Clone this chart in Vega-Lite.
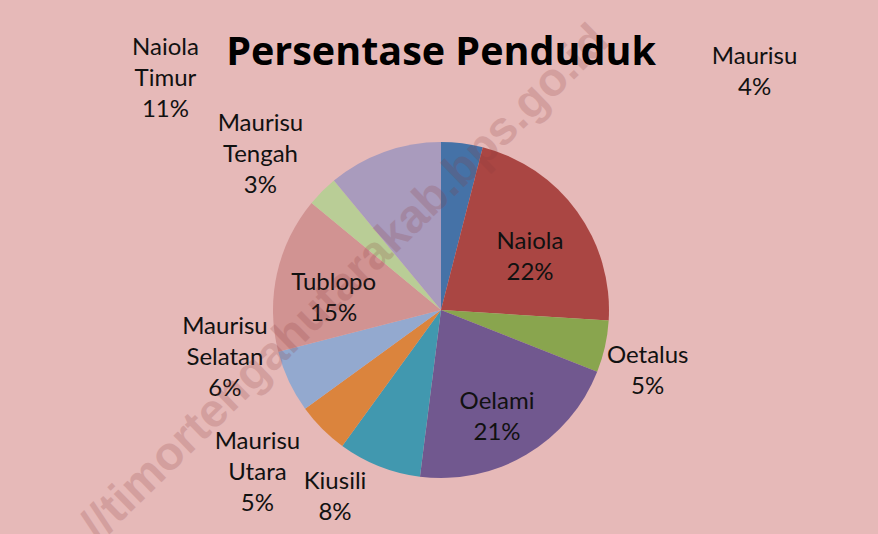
{
  "$schema": "https://vega.github.io/schema/vega-lite/v6.json",
  "width": 874,
  "height": 440,
  "autosize": {"type": "none"},
  "padding": {"left": 4, "top": 90, "right": 0, "bottom": 4},
  "background": "#E6B9B8",
  "view": {"stroke": null},
  "title": {"text": "Persentase Penduduk", "font": "Open Sans", "fontSize": 39.5, "fontWeight": "bold", "color": "#000000", "anchor": "middle", "frame": "group", "baseline": "alphabetic", "offset": -102},
  "config": {
    "text": {"font": "Lato", "fontSize": 24, "lineHeight": 31, "lineBreak": "\n", "align": "center", "baseline": "middle", "color": "#111111"}
  },
  "data": {"values": [
    {"kecamatan": "Maurisu", "persen": 4},
    {"kecamatan": "Naiola", "persen": 22},
    {"kecamatan": "Oetalus", "persen": 5},
    {"kecamatan": "Oelami", "persen": 21},
    {"kecamatan": "Kiusili", "persen": 8},
    {"kecamatan": "Maurisu Utara", "persen": 5},
    {"kecamatan": "Maurisu Selatan", "persen": 6},
    {"kecamatan": "Tublopo", "persen": 15},
    {"kecamatan": "Maurisu Tengah", "persen": 3},
    {"kecamatan": "Naiola Timur", "persen": 11}
  ]},
  "transform": [
    {"window": [{"op": "row_number", "as": "urutan"}]},
    {"calculate": "replace(datum.kecamatan, ' ', '\\n') + '\\n' + datum.persen + '%'", "as": "label"}
  ],
  "encoding": {
    "theta": {"field": "persen", "type": "quantitative", "stack": true},
    "order": {"field": "urutan", "type": "quantitative"}
  },
  "layer": [
    {
      "mark": {"type": "arc", "outerRadius": 168},
      "encoding": {
        "color": {
          "field": "kecamatan", "type": "nominal", "legend": null,
          "scale": {
            "domain": ["Maurisu", "Naiola", "Oetalus", "Oelami", "Kiusili", "Maurisu Utara", "Maurisu Selatan", "Tublopo", "Maurisu Tengah", "Naiola Timur"],
            "range": ["#4572A7", "#AA4643", "#89A54E", "#71588F", "#4198AF", "#DB843D", "#93A9CF", "#D19392", "#B9CD96", "#A99BBD"]
          }
        }
      }
    },
    {
      "mark": {"type": "text", "radius": 110, "dy": -3},
      "encoding": {"text": {"condition": {"test": "indexof(['Naiola','Oelami','Tublopo'], datum.kecamatan) >= 0", "field": "label"}, "value": ""}}
    },
    {
      "mark": {"type": "text", "radius": 220, "dx": -8, "dy": -2},
      "encoding": {"text": {"condition": {"test": "datum.kecamatan == 'Oetalus'", "field": "label"}, "value": ""}}
    },
    {
      "mark": {"type": "text", "radius": 220, "dx": -25, "dy": -33},
      "encoding": {"text": {"condition": {"test": "datum.kecamatan == 'Kiusili'", "field": "label"}, "value": ""}}
    },
    {
      "mark": {"type": "text", "radius": 220, "dx": -28, "dy": -24},
      "encoding": {"text": {"condition": {"test": "datum.kecamatan == 'Maurisu Utara'", "field": "label"}, "value": ""}}
    },
    {
      "mark": {"type": "text", "radius": 220, "dx": -17, "dy": -77},
      "encoding": {"text": {"condition": {"test": "datum.kecamatan == 'Maurisu Selatan'", "field": "label"}, "value": ""}}
    },
    {
      "mark": {"type": "text", "radius": 220, "dx": -25, "dy": -30},
      "encoding": {"text": {"condition": {"test": "datum.kecamatan == 'Maurisu Tengah'", "field": "label"}, "value": ""}}
    },
    {
      "mark": {"type": "text", "radius": 220, "dx": -201, "dy": -55},
      "encoding": {"text": {"condition": {"test": "datum.kecamatan == 'Naiola Timur'", "field": "label"}, "value": ""}}
    },
    {
      "mark": {"type": "text", "radius": 220, "dx": 286, "dy": -35},
      "encoding": {"text": {"condition": {"test": "datum.kecamatan == 'Maurisu'", "field": "label"}, "value": ""}}
    },
    {
      "data": {"values": [{"watermark": "//timortengahutarakab.bps.go.id"}]},
      "mark": {"type": "text", "font": "Liberation Sans", "fontWeight": "bold", "fontSize": 47, "angle": -44.3, "dx": -50, "dy": -86, "color": "#8B3A3A", "opacity": 0.2, "align": "center", "baseline": "middle"},
      "encoding": {"text": {"field": "watermark", "type": "nominal"}, "theta": null, "order": null}
    }
  ]
}
